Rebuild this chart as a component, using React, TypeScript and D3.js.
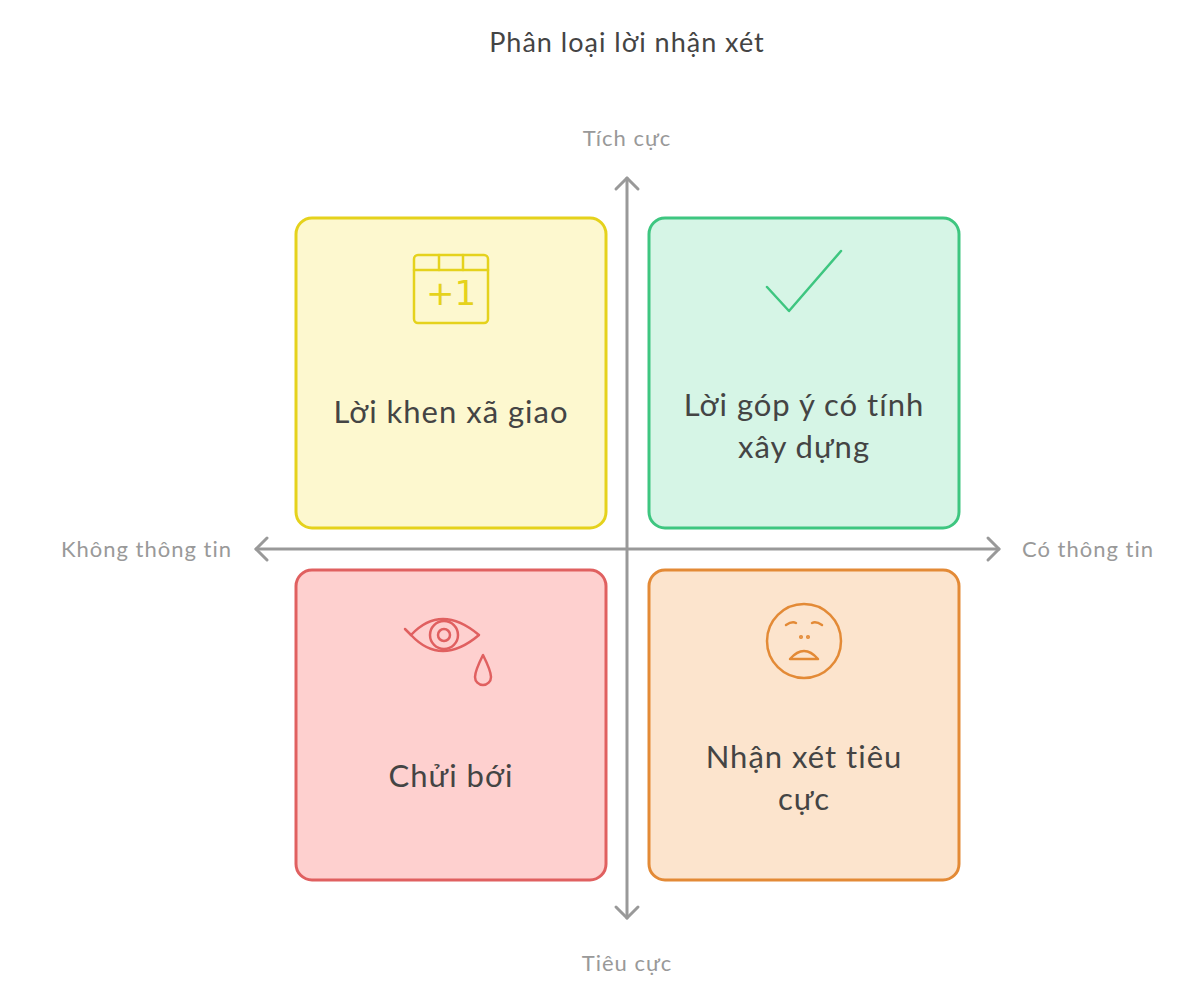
import React from "react";
import * as d3 from "d3";

const title = "Phân loại lời nhận xét";
const axisLabels = { top: "Tích cực", bottom: "Tiêu cực", left: "Không thông tin", right: "Có thông tin" };
const quadCols = [-1, 1, -1, 1];
const quadRows = [1, 1, -1, -1];
const quadLines = [["Lời khen xã giao"], ["Lời góp ý có tính", "xây dựng"], ["Chửi bới"], ["Nhận xét tiêu", "cực"]];
const quadIcons = ["calendar", "check", "eye", "sad"];
const quadFill = ["#fdf8cf", "#d6f5e6", "#fed0cf", "#fce4cd"];
const quadStroke = ["#e5d21c", "#3ec680", "#e06060", "#e38a36"];

function Icon({ kind, color }: { kind: string; color: string }) {
  const p = { fill: "none", stroke: color, strokeWidth: 2.5, strokeLinecap: "round" as const, strokeLinejoin: "round" as const };
  if (kind === "calendar")
    return (
      <g {...p}>
        <rect x={-37} y={-34} width={74} height={68} rx={4} />
        <line x1={-37} y1={-19} x2={37} y2={-19} />
        <line x1={-12} y1={-34} x2={-12} y2={-19} />
        <line x1={12} y1={-34} x2={12} y2={-19} />
        <text x={0} y={16} textAnchor="middle" fill={color} stroke="none" fontSize={34} fontFamily="DejaVu Sans">+1</text>
      </g>
    );
  if (kind === "check") return <path {...p} d="M-37,-2 L-15,22 L37,-38" />;
  if (kind === "eye")
    return (
      <g {...p}>
        <path d="M-40,-6 Q-10,-38 28,-6 Q-10,26 -40,-6 Z" />
        <circle cx={-7} cy={-6} r={14} />
        <circle cx={-7} cy={-6} r={6} />
        <line x1={-40} y1={-6} x2={-46} y2={-12} />
        <path d="M32,14 Q24,30 24,36 A8,8 0 0 0 40,36 Q40,30 32,14 Z" />
      </g>
    );
  return (
    <g {...p}>
      <circle cx={0} cy={0} r={37} />
      <path d="M-18,-16 Q-12,-20 -8,-18 M8,-18 Q12,-20 18,-16" />
      <circle cx={-3} cy={-4} r={0.8} /><circle cx={4} cy={-4} r={0.8} />
      <path d="M-14,18 Q0,2 14,18 Z" />
    </g>
  );
}

export default function App() {
  const W = 1196, H = 1000, cx = 627, cy = 549;
  const x = d3.scaleLinear().domain([-1, 1]).range([cx - 176, cx + 177]);
  const y = d3.scaleLinear().domain([-1, 1]).range([cy + 176, cy - 176]);
  const half = 155;
  const font = "'Comic Sans MS', Lato, 'Open Sans', sans-serif";
  const gray = "#999";
  return (
    <svg width={W} height={H} style={{ position: "absolute", left: 0, top: 0 }}>
      <rect width={W} height={H} fill="#fff" />
      <text x={cx} y={52} textAnchor="middle" fontSize={27} fill="#444" fontFamily={font} letterSpacing={1}>{title}</text>
      <g stroke={gray} strokeWidth={3} fill="none" strokeLinecap="round" strokeLinejoin="round">
        <line x1={cx} y1={178} x2={cx} y2={918} />
        <path d={`M${cx - 11},${189} L${cx},${178} L${cx + 11},${189}`} />
        <path d={`M${cx - 11},${907} L${cx},${918} L${cx + 11},${907}`} />
        <line x1={256} y1={cy} x2={999} y2={cy} />
        <path d={`M${267},${cy - 11} L${256},${cy} L${267},${cy + 11}`} />
        <path d={`M${988},${cy - 11} L${999},${cy} L${988},${cy + 11}`} />
      </g>
      <g fill={gray} fontSize={22} fontFamily={font} letterSpacing={1}>
        <text x={cx} y={146} textAnchor="middle">{axisLabels.top}</text>
        <text x={cx} y={971} textAnchor="middle">{axisLabels.bottom}</text>
        <text x={232} y={557} textAnchor="end">{axisLabels.left}</text>
        <text x={1022} y={557}>{axisLabels.right}</text>
      </g>
      {quadLines.map((lines, i) => {
        const qx = x(quadCols[i]), qy = y(quadRows[i]);
        const iconY = qy - 84;
        const textY = lines.length === 1 ? qy + 50 : qy + 43;
        return (
          <g key={i}>
            <rect x={qx - half} y={qy - half} width={half * 2} height={half * 2} rx={16} fill={quadFill[i]} stroke={quadStroke[i]} strokeWidth={3} />
            <g transform={`translate(${qx},${iconY})`}><Icon kind={quadIcons[i]} color={quadStroke[i]} /></g>
            {lines.map((l, j) => (
              <text key={j} x={qx} y={textY + j * 42 - (i === 2 ? -12 : i === 3 ? -50 + 50 : 0)} textAnchor="middle" fontSize={31} fill="#444" fontFamily={font} letterSpacing={1}>{l}</text>
            ))}
          </g>
        );
      })}
    </svg>
  );
}
